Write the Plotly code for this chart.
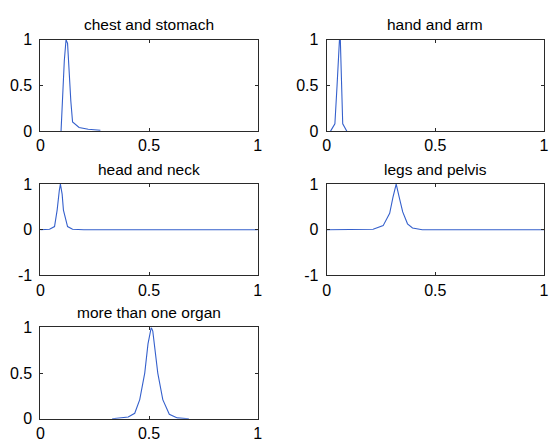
import plotly.graph_objects as go

titles = ["chest and stomach", "hand and arm", "head and neck", "legs and pelvis", "more than one organ"]

chest_x = [0.095, 0.11, 0.118, 0.125, 0.14, 0.148, 0.178, 0.22, 0.276]
chest_y = [0.0, 0.77, 1.0, 0.96, 0.33, 0.10, 0.04, 0.02, 0.01]

hand_x = [0.018, 0.038, 0.048, 0.056, 0.059, 0.063, 0.068, 0.074, 0.093]
hand_y = [0.0, 0.08, 0.5, 0.82, 1.0, 1.0, 0.5, 0.08, 0.0]

head_x = [0.0, 0.042, 0.065, 0.077, 0.087, 0.092, 0.10, 0.106, 0.125, 0.148, 0.2, 1.0]
head_y = [0.0, 0.01, 0.07, 0.43, 0.86, 1.0, 0.78, 0.43, 0.07, 0.01, 0.0, 0.0]

legs_x = [0.0, 0.2, 0.214, 0.26, 0.29, 0.305, 0.32, 0.334, 0.35, 0.372, 0.395, 0.44, 1.0]
legs_y = [0.0, 0.0, 0.01, 0.09, 0.36, 0.71, 1.0, 0.71, 0.39, 0.13, 0.04, 0.0, 0.0]

more_x = [0.33, 0.404, 0.434, 0.457, 0.48, 0.495, 0.51, 0.517, 0.54, 0.563, 0.593, 0.63, 0.683]
more_y = [0.0, 0.02, 0.06, 0.21, 0.5, 0.82, 1.0, 0.96, 0.5, 0.21, 0.05, 0.01, 0.0]

xticks = [0, 0.5, 1]
xtick_text = ["0", "0.5", "1"]
yticks_a = [0, 0.5, 1]
ytick_text_a = ["0", "0.5", "1"]
yticks_b = [-1, 0, 1]
ytick_text_b = ["-1", "0", "1"]

series = [(chest_x, chest_y), (hand_x, hand_y), (head_x, head_y), (legs_x, legs_y), (more_x, more_y)]

W, H = 550, 448
boxes = [  # left, right, top, bottom in px
    (37, 258, 33, 128),
    (328, 549, 33, 128),
    (37, 258, 183, 278),
    (328, 549, 183, 278),
    (37, 258, 332, 427),
]
yranges = [(0, 1), (0, 1), (-1, 1), (-1, 1), (0, 1)]
ytickset = [(yticks_a, ytick_text_a), (yticks_a, ytick_text_a), (yticks_b, ytick_text_b),
            (yticks_b, ytick_text_b), (yticks_a, ytick_text_a)]

fig = go.Figure()
layout = dict(width=W, height=H, margin=dict(l=0, r=0, t=0, b=0),
              paper_bgcolor="white", plot_bgcolor="white", showlegend=False,
              font=dict(family="Liberation Sans, Arial, sans-serif", color="black"))
annotations = []
linecolor = "#2a2a2a"
for i, ((xs, ys), (l, r, t, b)) in enumerate(zip(series, boxes)):
    n = "" if i == 0 else str(i + 1)
    fig.add_trace(go.Scatter(x=xs, y=ys, mode="lines", line=dict(color="#3560cc", width=1.1),
                             xaxis="x" + n, yaxis="y" + n, hoverinfo="skip"))
    common = dict(showline=True, linecolor=linecolor, linewidth=1, mirror="ticks", ticks="inside",
                  ticklen=3, tickcolor=linecolor, showgrid=False, zeroline=False,
                  tickfont=dict(size=16, color="black"))
    layout["xaxis" + n] = dict(domain=[l / W, r / W], range=[0, 1], tickvals=xticks,
                               ticktext=xtick_text, anchor="y" + n, ticklabelstandoff=0, **common)
    yt, ytt = ytickset[i]
    layout["yaxis" + n] = dict(domain=[1 - b / H, 1 - t / H], range=list(yranges[i]), tickvals=yt,
                               ticktext=ytt, anchor="x" + n, ticklabelstandoff=4, **common)
    annotations.append(dict(text=titles[i], x=(l + r) / 2 / W, y=1 - (t - 15.5) / H, xref="paper",
                            yref="paper", showarrow=False, xanchor="center", yanchor="middle",
                            font=dict(size=15.5, color="black")))
layout["annotations"] = annotations
fig.update_layout(**layout)
fig.write_html("out.html")
